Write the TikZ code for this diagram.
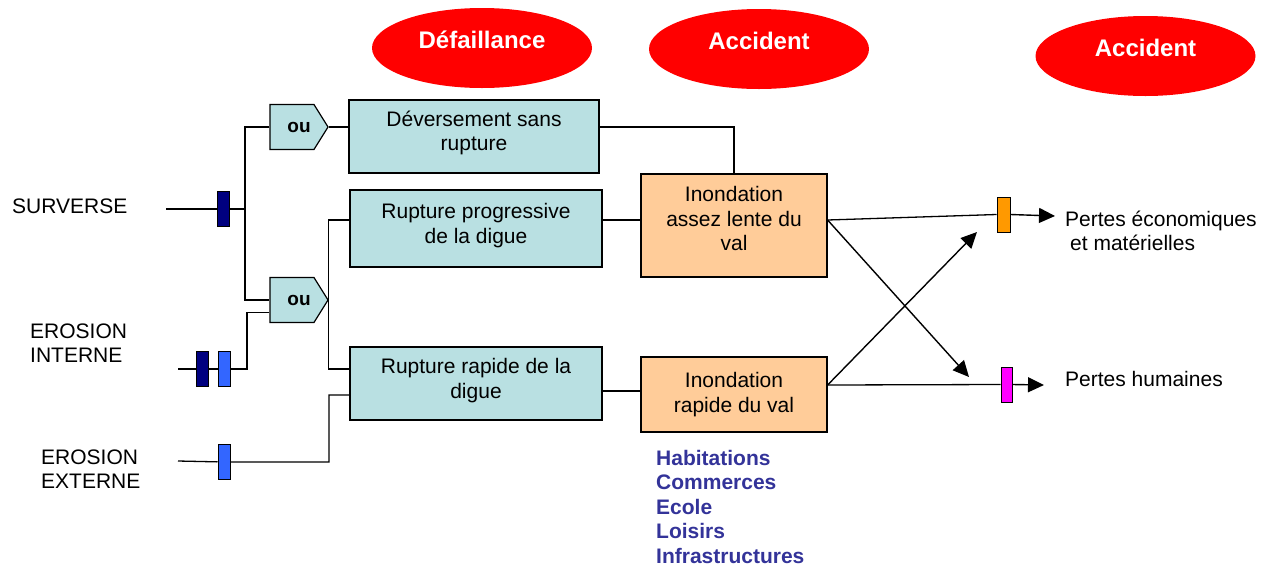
\documentclass[tikz,border=0pt]{standalone}
\usepackage{fontspec}
\setmainfont{Liberation Sans}
\usepackage{xcolor}
\usepackage{tikz}
\usetikzlibrary{arrows.meta,positioning,shapes.geometric,shapes.symbols,calc}
\definecolor{bluegate}{RGB}{185,224,226}
\definecolor{peach}{RGB}{255,204,153}
\definecolor{navyfuse}{RGB}{0,0,128}
\definecolor{bluefuse}{RGB}{51,102,255}
\definecolor{orangefuse}{RGB}{255,153,0}
\definecolor{magentafuse}{RGB}{255,0,255}
\definecolor{listblue}{RGB}{51,51,153}
\definecolor{redtag}{RGB}{255,0,0}

\begin{document}
\begin{tikzpicture}[
    x=1pt, y=-1pt,
    every node/.style={font=\fontsize{21}{24.5}\selectfont},
    defbox/.style={draw=black, line width=1.2pt, fill=bluegate, align=center,
                inner sep=0pt},
    accbox/.style={draw=black, line width=1.2pt, fill=peach, align=center,
                inner sep=0pt},
    ougate/.style={draw=black, line width=1.2pt, fill=bluegate, signal, signal to=east,
                signal from=nowhere, signal pointer angle=116, minimum width=58pt,
                minimum height=45pt, inner sep=0pt,
                font=\fontsize{19}{22}\selectfont\bfseries},
    fuse/.style={draw=black, line width=1pt, minimum width=12pt, minimum height=35pt,
                inner sep=0pt},
    redell/.style={ellipse, fill=redtag, minimum width=220pt, minimum height=80pt},
    redlbl/.style={text=white, font=\fontsize{24}{28}\selectfont\bfseries},
    lbl/.style={align=left, inner sep=0pt},
    wire/.style={line width=1.3pt, black},
    arr/.style={-{Triangle[length=16pt,width=15pt]}, line width=1.4pt, black}
]
\useasboundingbox (0,0) rectangle (1272,566);

% headers
\node[redell] (defell) at (482,48) {};
\node[redlbl] (deftxt) at ([yshift=8pt]defell.center) {Défaillance};
\node[redell] (accell) at (759,49) {};
\node[redlbl] (acctxt) at ([yshift=8pt]accell.center) {Accident};
\node[redell] (acc2ell) at (1145.5,56) {};
\node[redlbl] (acc2txt) at ([yshift=8pt]acc2ell.center) {Accident};

% causes
\node[lbl, anchor=west] (surv) at (12,206) {SURVERSE};
\node[lbl, anchor=west] (eroint) at (30,343) {EROSION\\INTERNE};
\node[lbl, anchor=west] (eroext) at (41,469) {EROSION\\EXTERNE};
\coordinate (survin) at (166,209);
\coordinate (eroin) at (178,369);
\coordinate (eroexin) at (178,461);
\node[fuse, fill=navyfuse] (fs) at (223.5,209) {};
\node[fuse, fill=navyfuse] (fi1) at (202,369) {};
\node[fuse, fill=bluefuse] (fi2) at (224,369) {};
\node[fuse, fill=bluefuse] (fe) at (224,462) {};
\coordinate (jsurv) at (245,209);

% gates
\node[ougate] (ou1) at (292,127) {\hspace*{14pt}ou};
\node[ougate] (ou2) at (292,300) {\hspace*{14pt}ou};

% failure modes
\node[defbox, minimum width=250pt, minimum height=73pt] (dev) at (474,136.5)
    {Déversement sans\\rupture\\[-13pt]\mbox{}};
\node[defbox, minimum width=252pt, minimum height=77pt] (rprog) at (476,228.5)
    {Rupture progressive\\de la digue\\[-14pt]\mbox{}};
\node[defbox, minimum width=252pt, minimum height=73pt] (rrap) at (476,383.5)
    {Rupture rapide de la\\digue\\[-14pt]\mbox{}};

% accidents
\node[accbox, minimum width=186pt, minimum height=103pt] (ilente) at (734,225.5)
    {Inondation\\assez lente du\\val\\[-11pt]\mbox{}};
\node[accbox, minimum width=186pt, minimum height=75pt] (irap) at (734,394.5)
    {Inondation\\rapide du val};
\node[lbl, anchor=north west, text=listblue, font=\fontsize{21}{24.5}\selectfont\bfseries]
    (enjeux) at (656,450) {Habitations\\Commerces\\Ecole\\Loisirs\\Infrastructures};

% consequences
\node[fuse, fill=orangefuse, minimum width=13pt] (feco) at (1003.5,214.5) {};
\node[fuse, fill=magentafuse, minimum width=11pt] (fhum) at (1006.5,384.5) {};
\coordinate (ecoend) at (1055,216);
\coordinate (humend) at (1044,385);
\coordinate (xhum) at (969,377);
\coordinate (xeco) at (977,232);
\node[lbl, anchor=west] (peco) at (1065,231) {Pertes économiques\\\hspace{5pt}et matérielles};
\node[lbl, anchor=west] (phum) at (1065,379) {Pertes humaines};

% wiring
\draw[wire] (survin) -- (fs) -- (jsurv);
\draw[wire] (ou1.west) -| (jsurv) |- (ou2.west);
\draw[wire] (eroin) -- (fi1) -- (fi2) -- ++(23,0) |- ([yshift=-12.5pt]ou2.west);
\draw[wire] (eroexin) -- (fe) -- ++(105,0) |- ([yshift=-11.5pt]rrap.west);
\draw[wire] (ou1.east) -- ([yshift=9.5pt]dev.west);
\draw[wire] ([yshift=8.5pt]rprog.west) -| (ou2.east) |- ([yshift=14.5pt]rrap.west);
\draw[wire] ([yshift=9.5pt]dev.east) -| (ilente.north);
\draw[wire] ([yshift=8.5pt]rprog.east) -- ([yshift=5.5pt]ilente.west);
\draw[wire] ([yshift=-7.5pt]rrap.east) -- ([yshift=3.5pt]irap.west);
\draw[wire] ([yshift=5.5pt]ilente.east) -- (feco.west);
\draw[wire] ([yshift=9.5pt]irap.east) -- (fhum.west);
\draw[arr] ([yshift=5.5pt]ilente.east) -- (xhum);
\draw[arr] ([yshift=9.5pt]irap.east) -- (xeco);
\draw[arr] (feco.east) -- (ecoend);
\draw[arr] (fhum.east) -- (humend);
\end{tikzpicture}
\end{document}
